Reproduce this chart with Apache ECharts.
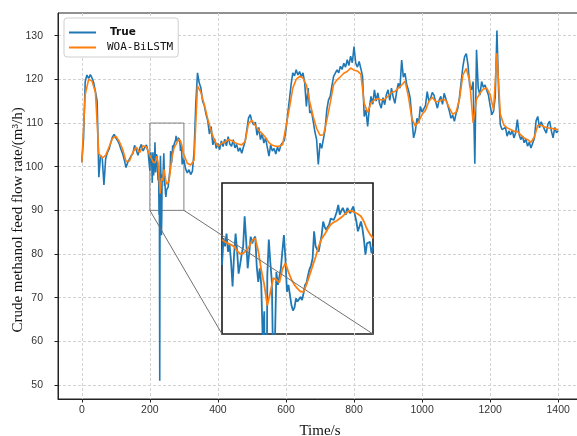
<!DOCTYPE html>
<html>
<head>
<meta charset="utf-8">
<script src="https://cdn.jsdelivr.net/npm/echarts@6/dist/echarts.min.js"></script>
<style>
  html, body { margin: 0; padding: 0; background: #fff; }
  #chart { width: 577px; height: 436px; }
</style>
</head>
<body>
<div id="chart"></div>
<script>
// Axis ticks
const xTicks = [0, 200, 400, 600, 800, 1000, 1200, 1400];
const yTicks = [50, 60, 70, 80, 90, 100, 110, 120, 130];

// Window shown enlarged in the inset (time in s, flow in m3/h)
const zoomX = [200, 300];
const zoomY = [90, 110];

// Measured flow (True), 0-195 s, every 5 s
const trueA = [
  101.0, 106.5, 119.5, 121.0, 120.2, 121.1, 120.3, 119.2, 117.2, 115.0,
  97.6, 102.6, 102.0, 95.8, 101.8, 103.2, 104.0, 105.5, 106.8, 107.4,
  106.6, 106.0, 105.2, 104.0, 103.0, 101.5, 99.8, 101.0, 100.6, 102.5,
  103.0, 104.9, 103.8, 102.6, 104.2, 105.1, 103.6, 104.4, 105.0, 103.3
];
// Measured flow, 200-300 s, every 1 s
const trueZoom = [
  99.1, 102.7, 101.6, 103.3, 100.9, 101.8, 99.6, 96.3, 100.5, 103.3,
  101.0, 98.0, 99.2, 100.5, 101.6, 105.6, 102.4, 98.7, 100.7, 102.9,
  102.0, 102.6, 102.9, 99.0, 96.9, 98.7, 96.5, 89.0, 93.0, 51.0,
  97.8, 102.5, 99.5, 97.0, 84.3, 88.5, 98.2, 96.5, 97.6, 98.7,
  101.0, 103.1, 100.0, 95.6, 96.5, 96.5, 93.8, 93.1, 93.5, 94.7,
  94.3, 94.6, 94.9, 94.5, 95.4, 96.5, 96.8, 97.8, 98.6, 99.1,
  100.0, 103.6, 101.6, 101.2, 100.9, 102.0, 103.1, 104.9, 104.2, 103.8,
  104.0, 104.5, 105.3, 105.2, 105.1, 105.6, 106.2, 107.1, 105.8, 106.3,
  106.7, 106.2, 105.8, 106.7, 106.3, 106.0, 106.5, 106.9, 105.8, 104.9,
  103.6, 104.2, 104.9, 104.0, 102.5, 100.5, 102.0, 102.1, 102.2, 100.7,
  101.6
];
// Measured flow, 305-1400 s, every 5 s
const trueB = [
  99.5, 98.6, 99.3, 98.2, 99.0, 103.5, 114.5, 121.5, 119.2, 118.0,
  115.0, 114.0, 112.0, 110.6, 107.5, 109.2, 105.0, 106.4, 104.2, 105.3,
  103.9, 105.9, 104.6, 106.3, 104.8, 106.9, 105.2, 104.7, 106.2, 104.3,
  105.1, 103.5, 104.3, 103.1, 104.5, 105.8, 108.5, 111.2, 111.9, 110.3,
  109.6, 110.2, 107.2, 109.0, 106.2, 107.5, 105.4, 106.6, 104.5, 102.4,
  105.0, 103.6, 104.2, 102.9, 104.5, 103.5, 105.0, 104.7, 106.0, 108.5,
  112.0, 115.3, 118.8, 121.5, 120.8, 122.2, 121.0, 121.8, 120.6, 121.5,
  119.2, 113.8, 118.0, 112.3, 112.8, 110.4, 108.0, 106.2, 100.5, 105.4,
  104.2, 103.9, 108.5, 113.0, 115.3, 116.1, 118.5, 120.7, 121.0, 122.2,
  121.5, 123.0, 122.3, 123.7, 122.8, 124.5, 123.2, 125.3, 123.8, 127.5,
  123.7, 122.8, 124.1, 122.5, 120.7, 111.5, 113.0, 109.2, 113.5, 116.1,
  114.3, 117.6, 115.0, 116.9, 114.5, 113.4, 115.8, 114.2, 116.5, 117.6,
  115.2, 118.0, 116.0, 114.5, 117.0, 119.1, 118.0, 124.4, 120.5, 121.4,
  118.7, 117.5, 115.7, 111.1, 106.6, 108.1, 111.1, 110.0, 113.8, 112.5,
  112.3, 114.0, 117.2, 115.0, 115.7, 117.0, 116.4, 114.8, 113.4, 115.2,
  116.1, 114.3, 116.8, 115.5, 114.2, 112.8, 111.1, 111.8, 110.4, 112.2,
  113.4, 116.0, 119.5, 123.0, 125.2, 125.9, 123.3, 118.6, 117.6, 119.5,
  100.7, 126.8, 118.0, 116.4, 119.5, 118.2, 118.7, 117.5, 116.4, 114.0,
  111.9, 112.7, 116.0, 131.2, 117.2, 109.6, 108.5, 108.1, 109.0, 107.0,
  108.2, 107.3, 108.3, 106.6, 107.8, 110.8, 107.5, 106.2, 107.0, 105.5,
  106.3, 104.7, 105.6, 104.3, 104.0, 106.5, 110.5, 111.5, 108.9, 110.3,
  110.0, 108.5, 107.7, 109.8, 110.4, 108.2, 106.6, 109.0, 107.8, 108.2
];

// WOA-BiLSTM prediction, 0-190 s, every 10 s
const predA = [
  101.0, 116.5, 120.0, 119.6, 117.0, 103.0, 102.0, 102.6, 104.5, 106.5,
  107.0, 105.8, 104.0, 101.2, 101.3, 103.3, 104.5, 103.2, 104.8, 104.5
];
// Prediction, 200-300 s, every 2 s
const predZoom = [
  102.5, 102.2, 102.0, 101.8, 101.6, 101.0, 100.6, 100.7, 101.0, 101.6,
  102.4, 102.7, 101.0, 98.5, 96.5, 93.8, 95.5, 97.4, 97.2, 96.8,
  98.6, 99.4, 98.2, 97.2, 96.5, 96.0, 95.6, 95.6, 96.6, 97.8,
  99.0, 100.2, 101.6, 102.6, 103.2, 103.9, 104.5, 104.8, 105.0, 105.3,
  105.6, 106.0, 106.3, 106.3, 106.1, 105.9, 105.6, 104.9, 103.9, 103.2,
  102.7
];
// Prediction, 310-1400 s, every 10 s
const predB = [
  100.8, 100.4, 101.5, 118.5, 117.0, 114.2, 111.0, 108.2, 106.0, 104.7,
  105.3, 105.6, 106.2, 106.0, 105.5, 105.2, 105.0, 105.8, 110.0, 110.6,
  109.4, 108.3, 107.6, 106.7, 105.5, 104.9, 104.7, 104.7, 105.0, 109.2,
  113.4, 118.0, 120.0, 120.7, 120.3, 118.7, 114.8, 111.5, 108.8, 107.2,
  107.3, 110.6, 114.6, 118.8, 119.9, 120.6, 121.4, 121.8, 122.6, 122.1,
  121.9, 121.2, 114.5, 112.4, 114.6, 115.3, 115.6, 115.3, 115.4, 116.2,
  117.0, 117.2, 118.0, 118.7, 119.6, 116.0, 111.0, 109.3, 110.3, 112.0,
  112.9, 115.0, 115.9, 114.9, 115.0, 115.4, 115.2, 113.5, 112.0, 112.5,
  115.5, 121.0, 122.5, 119.5, 110.0, 115.5, 116.8, 117.8, 118.0, 116.5,
  113.0, 126.0, 112.0, 109.6, 108.9, 108.5, 108.1, 108.1, 107.3, 106.6,
  106.2, 105.6, 106.8, 109.5, 109.5, 109.1, 108.9, 108.8, 108.6, 108.5
];

const seriesNames = ['True', 'WOA-BiLSTM'];

// [time, value] pairs for a regularly sampled segment
function toPairs(start, step, values) {
  return values.map((v, i) => [start + i * step, v]);
}

const trueZoomPts = toPairs(200, 1, trueZoom);
const predZoomPts = toPairs(200, 2, predZoom);
const truePts = toPairs(0, 5, trueA).concat(trueZoomPts, toPairs(305, 5, trueB));
const predPts = toPairs(0, 10, predA).concat(predZoomPts, toPairs(310, 10, predB));

const BLUE = '#1f77b4';
const ORANGE = '#ff7f0e';
const AXIS = '#222';
const LABEL = '#333';
const GRIDLINE = '#d2d2d2';

function lineSeries(name, data, color, xi, extra) {
  return Object.assign({
    name: name,
    type: 'line',
    xAxisIndex: xi,
    yAxisIndex: xi,
    data: data,
    symbol: 'none',
    showSymbol: false,
    lineStyle: { color: color, width: 1.6 },
    itemStyle: { color: color },
    emphasis: { disabled: true }
  }, extra || {});
}

const chart = echarts.init(document.getElementById('chart'), null, { renderer: 'canvas' });

const option = {
  animation: false,
  grid: [
    { left: 58, top: 13, right: -5, bottom: 37, show: true, borderColor: AXIS, borderWidth: 1,
      containLabel: false, outerBoundsMode: 'none' },
    { left: 222, top: 183, width: 151, height: 151, show: true, borderColor: '#1a1a1a', borderWidth: 1.6,
      containLabel: false, outerBoundsMode: 'none' }
  ],
  xAxis: [
    {
      type: 'value', gridIndex: 0, min: -70, max: 1470, splitNumber: 8,
      axisLine: { show: true, onZero: false, lineStyle: { color: AXIS } },
      axisTick: { show: true, length: 3.5, customValues: xTicks, lineStyle: { color: AXIS } },
      axisLabel: {
        customValues: xTicks, formatter: v => String(v), color: LABEL,
        fontSize: 10.5, fontFamily: 'Liberation Sans', margin: 6
      },
      splitLine: { show: true, lineStyle: { color: GRIDLINE, type: [3, 2], width: 1 } },
      name: 'Time/s', nameLocation: 'middle', nameGap: 25, nameMoveOverlap: false,
      nameTextStyle: { fontFamily: 'Liberation Serif', fontSize: 15, color: '#111' }
    },
    { type: 'value', gridIndex: 1, min: zoomX[0], max: zoomX[1], show: false }
  ],
  yAxis: [
    {
      type: 'value', gridIndex: 0, min: 46.8, max: 135.2, splitNumber: 9,
      axisLine: { show: true, onZero: false, lineStyle: { color: AXIS } },
      axisTick: { show: true, length: 3.5, customValues: yTicks, lineStyle: { color: AXIS } },
      axisLabel: {
        customValues: yTicks, color: LABEL,
        fontSize: 10.5, fontFamily: 'Liberation Sans', margin: 15
      },
      splitLine: { show: true, lineStyle: { color: GRIDLINE, type: [3, 2], width: 1 } },
      name: 'Crude methanol feed flow rate/(m³/h)', nameLocation: 'middle', nameGap: 32, nameMoveOverlap: false,
      nameTextStyle: { fontFamily: 'Liberation Serif', fontSize: 15, color: '#111', padding: [0, 28, 0, 0] }
    },
    { type: 'value', gridIndex: 1, min: zoomY[0], max: zoomY[1], show: false }
  ],
  legend: {
    left: 64, top: 18, orient: 'vertical',
    icon: 'rect', itemWidth: 27, itemHeight: 2, itemGap: 4,
    padding: [9, 5, 4, 5],
    backgroundColor: '#fff', borderColor: '#cfcfcf', borderWidth: 1, borderRadius: 3,
    textStyle: { color: '#111' },
    data: [
      { name: seriesNames[0], textStyle: { fontWeight: 'bold', fontFamily: 'DejaVu Sans', fontSize: 10.5, padding: [0, 0, 0, 9] } },
      { name: seriesNames[1], textStyle: { fontFamily: 'DejaVu Sans Mono', fontSize: 11, padding: [0, 0, 0, 6] } }
    ]
  },
  series: [
    lineSeries(seriesNames[0], truePts, BLUE, 0, {
      markArea: {
        silent: true,
        itemStyle: { color: 'rgba(0,0,0,0)', borderColor: '#808080', borderWidth: 1 },
        data: [[{ coord: [zoomX[0], zoomY[1]] }, { coord: [zoomX[1], zoomY[0]] }]]
      }
    }),
    lineSeries(seriesNames[1], predPts, ORANGE, 0),
    lineSeries(seriesNames[0], trueZoomPts, BLUE, 1, { lineStyle: { color: BLUE, width: 1.8 } }),
    lineSeries(seriesNames[1], predZoomPts, ORANGE, 1, { lineStyle: { color: ORANGE, width: 1.8 } })
  ]
};

chart.setOption(option);

// Connector lines from the lower corners of the zoom window to the inset corners
const corners = [[zoomX[0], zoomY[0]], [zoomX[1], zoomY[0]]];
const connectors = corners.map(c => {
  const a = chart.convertToPixel({ gridIndex: 0 }, c);
  const b = chart.convertToPixel({ gridIndex: 1 }, c);
  return {
    type: 'line', silent: true, z: 100,
    shape: { x1: a[0], y1: a[1], x2: b[0], y2: b[1] },
    style: { stroke: '#707070', lineWidth: 1 }
  };
});
chart.setOption({ graphic: connectors });
</script>
</body>
</html>
